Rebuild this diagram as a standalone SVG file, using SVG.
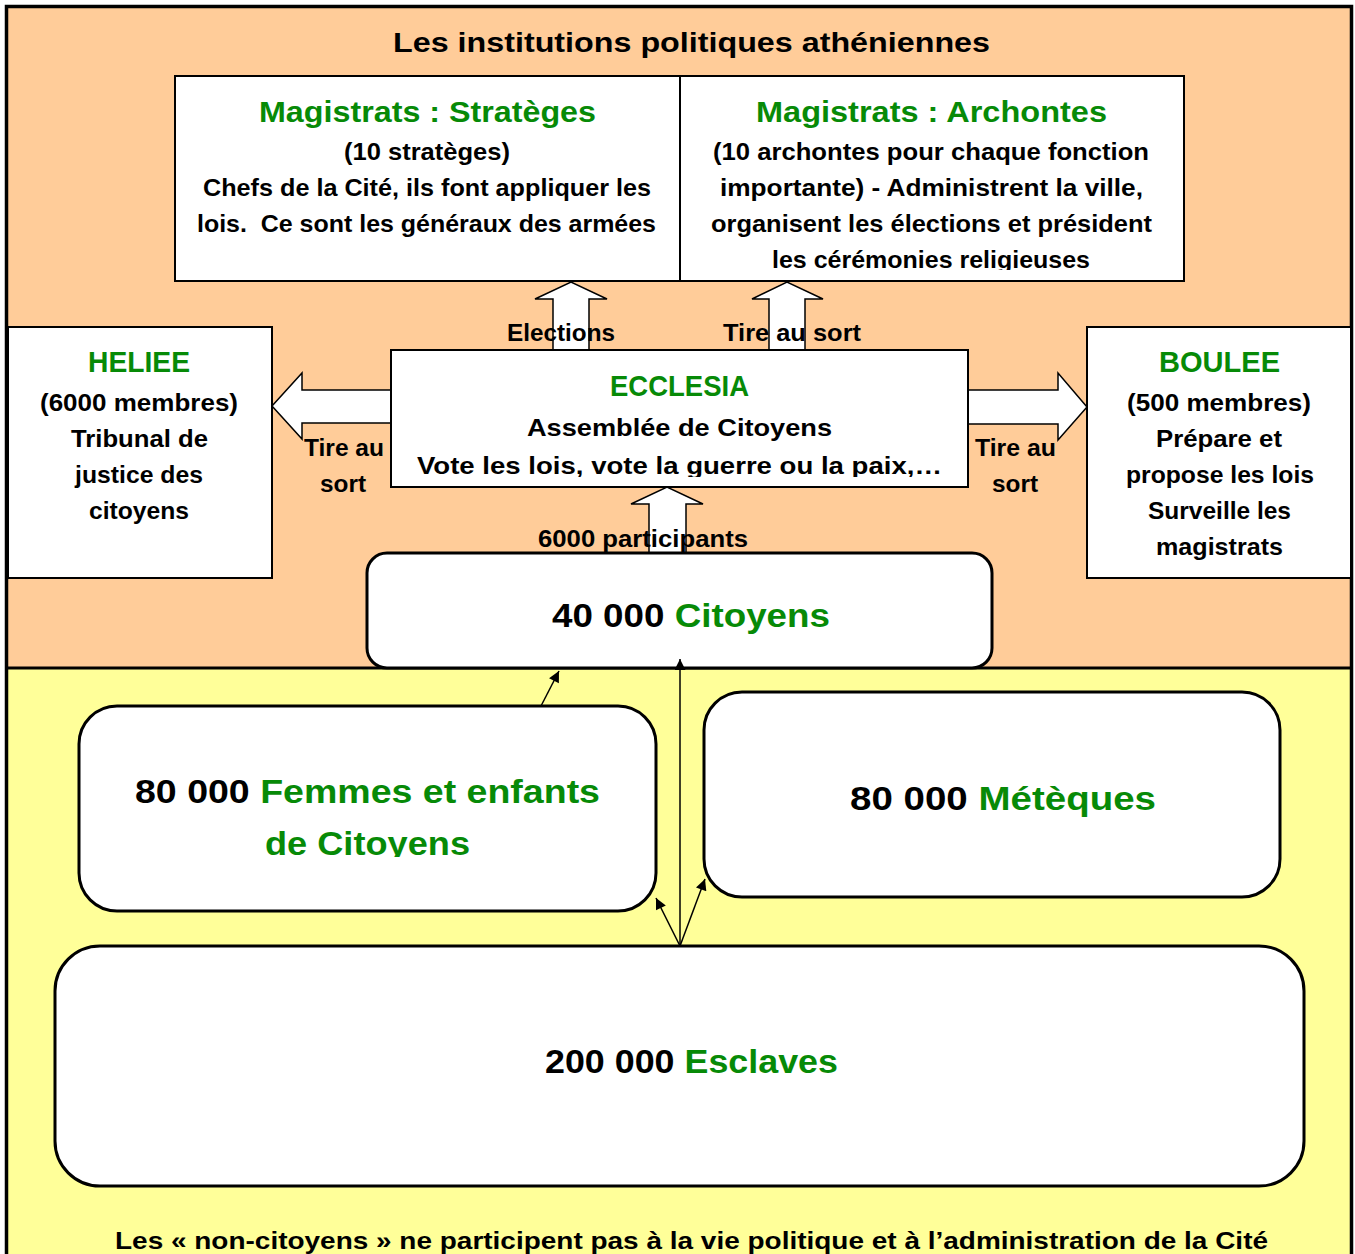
<svg xmlns="http://www.w3.org/2000/svg" width="1355" height="1254" viewBox="0 0 1355 1254">
<style>
text{font-family:"Liberation Sans",Arial,sans-serif;font-weight:bold;fill:#000;}
.t{font-size:27px;}
.h{font-size:30px;fill:#078A07;}
.b{font-size:24px;}
.big{font-size:34px;}
.g{fill:#078A07;}
.box{fill:#fff;stroke:#000;stroke-width:2;}
.rbox{fill:#fff;stroke:#000;stroke-width:3;}
.blk{fill:#fff;stroke:#000;stroke-width:1.5;stroke-linejoin:miter;}
.thin{stroke:#000;stroke-width:1.5;fill:none;marker-end:url(#ah);}
</style>
<defs>
<marker id="ah" viewBox="0 0 10 10" refX="10" refY="5" markerWidth="15" markerHeight="11" markerUnits="userSpaceOnUse" orient="auto"><path d="M0,0 L10,5 L0,10 z" fill="#000"/></marker>
<clipPath id="cArch"><rect x="680" y="76" width="504" height="194"/></clipPath>
<clipPath id="cEcc"><rect x="391" y="350" width="577" height="127"/></clipPath>
<clipPath id="cFem"><rect x="79" y="706" width="577" height="151"/></clipPath>
</defs>
<g id="background">
<rect x="6" y="6" width="1347" height="662" fill="#FFCC99"/>
<rect x="6" y="668" width="1347" height="590" fill="#FFFF99"/>
<path d="M6.5,1254 V6.5 H1351.5 V1254" fill="none" stroke="#000" stroke-width="3.5"/>
<line x1="6" y1="668" x2="1353" y2="668" stroke="#000" stroke-width="3"/>
<text class="t" x="393" y="52" textLength="597" lengthAdjust="spacingAndGlyphs">Les institutions politiques athéniennes</text>
</g>
<g id="connectors">
<path class="blk" d="M553,350 V299 H535 L571,282 L607,299 H589 V350 Z"/>
<path class="blk" d="M769,350 V299 H752 L787,282 L823,299 H805 V350 Z"/>
<path class="blk" d="M391,390 H302 V373 L272,406 L302,439 V423 H391 Z"/>
<path class="blk" d="M968,390 H1058 V373 L1087,407 L1058,440 V424 H968 Z"/>
<path class="blk" d="M649,553 V504 H631 L667,487 L703,504 H686 V553 Z"/>
<text class="b" x="507" y="341" textLength="108" lengthAdjust="spacingAndGlyphs">Elections</text>
<text class="b" x="723" y="341" textLength="138" lengthAdjust="spacingAndGlyphs">Tire au sort</text>
<text class="b" x="304" y="456" textLength="80" lengthAdjust="spacingAndGlyphs">Tire au</text>
<text class="b" x="320" y="492" textLength="46" lengthAdjust="spacingAndGlyphs">sort</text>
<text class="b" x="975" y="456" textLength="81" lengthAdjust="spacingAndGlyphs">Tire au</text>
<text class="b" x="992" y="492" textLength="46" lengthAdjust="spacingAndGlyphs">sort</text>
<text class="b" x="538" y="547" textLength="210" lengthAdjust="spacingAndGlyphs">6000 participants</text>
</g>
<g id="strateges">
<rect class="box" x="175" y="76" width="505" height="205"/>
<text class="h" x="259" y="122" textLength="337" lengthAdjust="spacingAndGlyphs">Magistrats : Stratèges</text>
<text class="b" x="344" y="160" textLength="166" lengthAdjust="spacingAndGlyphs">(10 stratèges)</text>
<text class="b" x="203" y="196" textLength="448" lengthAdjust="spacingAndGlyphs">Chefs de la Cité, ils font appliquer les</text>
<text class="b" x="197" y="232" textLength="459" lengthAdjust="spacingAndGlyphs" xml:space="preserve">lois.  Ce sont les généraux des armées</text>
</g>
<g id="archontes">
<rect class="box" x="680" y="76" width="504" height="205"/>
<g clip-path="url(#cArch)">
<text class="h" x="756" y="122" textLength="351" lengthAdjust="spacingAndGlyphs">Magistrats : Archontes</text>
<text class="b" x="713" y="160" textLength="436" lengthAdjust="spacingAndGlyphs">(10 archontes pour chaque fonction</text>
<text class="b" x="720" y="196" textLength="423" lengthAdjust="spacingAndGlyphs">importante) - Administrent la ville,</text>
<text class="b" x="711" y="232" textLength="441" lengthAdjust="spacingAndGlyphs">organisent les élections et président</text>
<text class="b" x="772" y="268" textLength="318" lengthAdjust="spacingAndGlyphs">les cérémonies religieuses</text>
</g>
</g>
<g id="heliee">
<rect class="box" x="8" y="327" width="264" height="251"/>
<text class="h" x="88" y="372" textLength="102" lengthAdjust="spacingAndGlyphs">HELIEE</text>
<text class="b" x="40" y="411" textLength="198" lengthAdjust="spacingAndGlyphs">(6000 membres)</text>
<text class="b" x="71" y="447" textLength="137" lengthAdjust="spacingAndGlyphs">Tribunal de</text>
<text class="b" x="75" y="483" textLength="128" lengthAdjust="spacingAndGlyphs">justice des</text>
<text class="b" x="89" y="519" textLength="100" lengthAdjust="spacingAndGlyphs">citoyens</text>
</g>
<g id="ecclesia">
<rect class="box" x="391" y="350" width="577" height="137"/>
<text class="h" x="610" y="396" textLength="139" lengthAdjust="spacingAndGlyphs">ECCLESIA</text>
<text class="b" x="527" y="436" textLength="305" lengthAdjust="spacingAndGlyphs">Assemblée de Citoyens</text>
<g clip-path="url(#cEcc)">
<text class="b" x="417" y="474" textLength="525" lengthAdjust="spacingAndGlyphs">Vote les lois, vote la guerre ou la paix,…</text>
</g>
</g>
<g id="boulee">
<rect class="box" x="1087" y="327" width="264" height="251"/>
<text class="h" x="1159" y="372" textLength="121" lengthAdjust="spacingAndGlyphs">BOULEE</text>
<text class="b" x="1127" y="411" textLength="184" lengthAdjust="spacingAndGlyphs">(500 membres)</text>
<text class="b" x="1156" y="447" textLength="126" lengthAdjust="spacingAndGlyphs">Prépare et</text>
<text class="b" x="1126" y="483" textLength="188" lengthAdjust="spacingAndGlyphs">propose les lois</text>
<text class="b" x="1148" y="519" textLength="143" lengthAdjust="spacingAndGlyphs">Surveille les</text>
<text class="b" x="1156" y="555" textLength="127" lengthAdjust="spacingAndGlyphs">magistrats</text>
</g>
<g id="citoyens">
<rect class="rbox" x="367" y="553" width="625" height="115" rx="20" ry="20"/>
<text class="big" x="552" y="627" textLength="278" lengthAdjust="spacingAndGlyphs">40 000 <tspan class="g">Citoyens</tspan></text>
</g>
<g id="femmes">
<rect class="rbox" x="79" y="706" width="577" height="205" rx="38" ry="38"/>
<text class="big" x="135" y="803" textLength="465" lengthAdjust="spacingAndGlyphs">80 000 <tspan class="g">Femmes et enfants</tspan></text>
<g clip-path="url(#cFem)">
<text class="big g" x="265" y="855" textLength="205" lengthAdjust="spacingAndGlyphs">de Citoyens</text>
</g>
</g>
<g id="meteques">
<rect class="rbox" x="704" y="692" width="576" height="205" rx="38" ry="38"/>
<text class="big" x="850" y="810" textLength="306" lengthAdjust="spacingAndGlyphs">80 000 <tspan class="g">Métèques</tspan></text>
</g>
<g id="esclaves">
<rect class="rbox" x="55" y="946" width="1249" height="240" rx="45" ry="45"/>
<text class="big" x="545" y="1073" textLength="293" lengthAdjust="spacingAndGlyphs">200 000 <tspan class="g">Esclaves</tspan></text>
</g>
<g id="thin-connectors">
<line class="thin" x1="541" y1="706" x2="559" y2="671"/>
<line class="thin" x1="680" y1="946" x2="680" y2="659"/>
<line class="thin" x1="680" y1="946" x2="656" y2="898"/>
<line class="thin" x1="680" y1="946" x2="705" y2="879"/>
</g>
<g id="note">
<text class="b" x="115" y="1249" textLength="1153" lengthAdjust="spacingAndGlyphs">Les « non-citoyens » ne participent pas à la vie politique et à l’administration de la Cité</text>
</g>
</svg>
